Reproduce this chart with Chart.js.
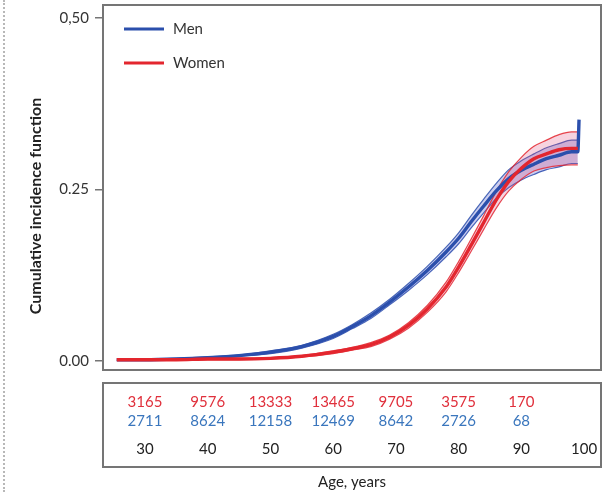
<!DOCTYPE html>
<html>
<head>
<meta charset="utf-8">
<script src="https://cdn.jsdelivr.net/npm/chart.js@4.4.1/dist/chart.umd.min.js"></script>
<style>
  html, body { margin: 0; padding: 0; background: #fff; }
  #wrap { position: relative; width: 602px; height: 492px; }
  #dots { position: absolute; left: 3px; top: 0; height: 492px; border-left: 2px dotted #b8b8b8; }
</style>
</head>
<body>
<div id="wrap">
  <canvas id="c" width="602" height="492"></canvas>
  <div id="dots"></div>
</div>
<script>
// ---- data ----
const menAges    = [25.5, 30, 35, 40, 45, 50, 55, 60, 63, 66, 69, 72, 75, 78, 80, 82, 84, 86, 88, 90, 92, 94, 96, 98, 99, 99.2];
const menCIF     = [0.002, 0.002, 0.003, 0.005, 0.008, 0.013, 0.021, 0.036, 0.050, 0.066, 0.086, 0.108, 0.132, 0.159, 0.179, 0.203, 0.226, 0.248, 0.266, 0.278, 0.287, 0.295, 0.300, 0.305, 0.305, 0.352];
const bandAges   = [25.5, 30, 35, 40, 45, 50, 55, 60, 63, 66, 69, 72, 75, 78, 80, 82, 84, 86, 88, 90, 92, 94, 96, 98, 99];
const menUpper   = [0.003, 0.003, 0.004, 0.006, 0.009, 0.015, 0.023, 0.039, 0.053, 0.070, 0.090, 0.113, 0.138, 0.166, 0.187, 0.212, 0.236, 0.259, 0.279, 0.292, 0.302, 0.311, 0.317, 0.322, 0.322];
const menLower   = [0.001, 0.001, 0.002, 0.004, 0.007, 0.011, 0.019, 0.033, 0.047, 0.062, 0.082, 0.103, 0.126, 0.152, 0.171, 0.194, 0.216, 0.237, 0.253, 0.264, 0.272, 0.279, 0.283, 0.288, 0.288];
const womenAges  = [25.5, 30, 35, 40, 45, 50, 55, 60, 63, 66, 69, 72, 75, 78, 80, 82, 84, 86, 88, 90, 92, 94, 96, 98, 99];
const womenCIF   = [0.002, 0.002, 0.002, 0.003, 0.003, 0.004, 0.007, 0.013, 0.018, 0.024, 0.035, 0.052, 0.076, 0.108, 0.137, 0.169, 0.202, 0.235, 0.262, 0.281, 0.295, 0.302, 0.308, 0.310, 0.310];
const womenUpper = [0.003, 0.003, 0.003, 0.004, 0.004, 0.005, 0.008, 0.015, 0.020, 0.027, 0.038, 0.056, 0.081, 0.115, 0.145, 0.178, 0.212, 0.247, 0.276, 0.297, 0.313, 0.322, 0.330, 0.334, 0.334];
const womenLower = [0.001, 0.001, 0.001, 0.002, 0.002, 0.003, 0.006, 0.011, 0.016, 0.021, 0.032, 0.048, 0.071, 0.101, 0.129, 0.160, 0.192, 0.223, 0.248, 0.265, 0.277, 0.282, 0.285, 0.286, 0.286];

const tableAges   = [30, 40, 50, 60, 70, 80, 90];
const womenAtRisk = [3165, 9576, 13333, 13465, 9705, 3575, 170];
const menAtRisk   = [2711, 8624, 12158, 12469, 8642, 2726, 68];
const ageTicks    = [30, 40, 50, 60, 70, 80, 90, 100];
const yTicks      = [0, 0.25, 0.5];
const yTickLabels = ['0.00', '0.25', '0,50'];
const legendLabels = ['Men', 'Women'];
const yTitle = 'Cumulative incidence function';

// ---- styles ----
const MEN = '#2b4fac';
const WOMEN = '#e3262e';
const FONT = 'Lato, "Open Sans", sans-serif';
const XMIN = 23.3, XMAX = 102.7;

const pts = (xs, ys) => xs.map((x, i) => ({ x: x, y: ys[i] }));

const boxPlugin = {
  id: 'boxes',
  afterDraw(chart) {
    const ctx = chart.ctx, a = chart.chartArea;
    ctx.save();
    ctx.strokeStyle = '#757575';
    ctx.lineWidth = 2;
    ctx.strokeRect(a.left, a.top, a.right - a.left, a.bottom - a.top);
    // risk table frame
    const sW = chart.scales.xW, sA = chart.scales.x;
    const t = sW.top + 13, b = sA.top + 36;
    ctx.strokeRect(a.left, t, a.right - a.left, b - t);
    // legend
    const lx = a.left + 21;
    const ly = [a.top + 24, a.top + 58];
    const cols = [MEN, WOMEN];
    ctx.font = '15px ' + FONT;
    ctx.textBaseline = 'middle';
    ctx.textAlign = 'left';
    for (let i = 0; i < 2; i++) {
      ctx.strokeStyle = cols[i];
      ctx.lineWidth = 3;
      ctx.beginPath();
      ctx.moveTo(lx, ly[i]);
      ctx.lineTo(lx + 40, ly[i]);
      ctx.stroke();
      ctx.fillStyle = '#333';
      ctx.fillText(legendLabels[i], lx + 49, ly[i]);
    }
    // y axis title
    ctx.translate(36, a.top + 201);
    ctx.rotate(-Math.PI / 2);
    ctx.textAlign = 'center';
    ctx.font = 'bold 16px ' + FONT;
    ctx.fillStyle = '#222';
    ctx.fillText(yTitle, 0, 0);
    ctx.restore();
  }
};

const lineBase = { pointRadius: 0, cubicInterpolationMode: 'monotone' };

new Chart(document.getElementById('c'), {
  type: 'line',
  data: {
    datasets: [
      Object.assign({ data: pts(bandAges, menLower), borderColor: 'rgba(43,79,172,0.85)', borderWidth: 1.2, fill: false, order: 5 }, lineBase),
      Object.assign({ data: pts(bandAges, menUpper), borderColor: 'rgba(43,79,172,0.85)', borderWidth: 1.2, fill: '-1', backgroundColor: 'rgba(70,80,200,0.28)', order: 4 }, lineBase),
      Object.assign({ data: pts(bandAges, womenLower), borderColor: 'rgba(227,38,46,0.85)', borderWidth: 1.2, fill: false, order: 3 }, lineBase),
      Object.assign({ data: pts(bandAges, womenUpper), borderColor: 'rgba(227,38,46,0.85)', borderWidth: 1.2, fill: '-1', backgroundColor: 'rgba(220,70,120,0.24)', order: 2 }, lineBase),
      Object.assign({ label: 'Men', data: pts(menAges, menCIF), borderColor: MEN, borderWidth: 3.4, fill: false, order: 1 }, lineBase),
      Object.assign({ label: 'Women', data: pts(womenAges, womenCIF), borderColor: WOMEN, borderWidth: 3.4, fill: false, order: 0 }, lineBase)
    ]
  },
  options: {
    responsive: false,
    animation: false,
    layout: { padding: { top: 5, right: 1, left: 0, bottom: 0 } },
    plugins: { legend: { display: false }, tooltip: { enabled: false } },
    scales: {
      xW: {
        type: 'linear', position: 'bottom', min: XMIN, max: XMAX,
        grid: { display: false, drawTicks: false }, border: { display: false },
        afterBuildTicks: s => { s.ticks = tableAges.map(v => ({ value: v })); },
        afterFit: s => { s.height = 41; s.paddingLeft = 0; s.paddingRight = 0; },
        ticks: { autoSkip: false, maxRotation: 0, padding: 23, color: '#e0303c', font: { family: FONT, size: 15 },
          callback: (v, i) => String(womenAtRisk[i]) }
      },
      xM: {
        type: 'linear', position: 'bottom', min: XMIN, max: XMAX,
        grid: { display: false, drawTicks: false }, border: { display: false },
        afterBuildTicks: s => { s.ticks = tableAges.map(v => ({ value: v })); },
        afterFit: s => { s.height = 20; s.paddingLeft = 0; s.paddingRight = 0; },
        ticks: { autoSkip: false, maxRotation: 0, padding: 1, color: '#3a76bd', font: { family: FONT, size: 15 },
          callback: (v, i) => String(menAtRisk[i]) }
      },
      x: {
        type: 'linear', position: 'bottom', min: XMIN, max: XMAX,
        grid: { display: false, drawTicks: false }, border: { display: false },
        afterBuildTicks: s => { s.ticks = ageTicks.map(v => ({ value: v })); },
        afterFit: s => { s.height = 61; s.paddingLeft = 0; s.paddingRight = 0; },
        ticks: { autoSkip: false, maxRotation: 0, padding: 9, color: '#222', font: { family: FONT, size: 15 },
          callback: v => String(v) },
        title: { display: true, text: 'Age, years', color: '#222', font: { family: FONT, size: 15 }, padding: { top: 0, bottom: 1 } }
      },
      y: {
        type: 'linear', min: -0.013, max: 0.519,
        grid: { drawOnChartArea: false, drawTicks: true, tickLength: 8, color: '#757575', lineWidth: 1.5 },
        border: { display: false },
        afterBuildTicks: s => { s.ticks = yTicks.map(v => ({ value: v })); },
        afterFit: s => { s.width = 103; s.paddingTop = 0; s.paddingBottom = 0; },
        ticks: { padding: 6, color: '#333', font: { family: FONT, size: 15 },
          callback: (v, i) => yTickLabels[i] },
        title: { display: false }
      }
    }
  },
  plugins: [boxPlugin]
});
</script>
</body>
</html>
